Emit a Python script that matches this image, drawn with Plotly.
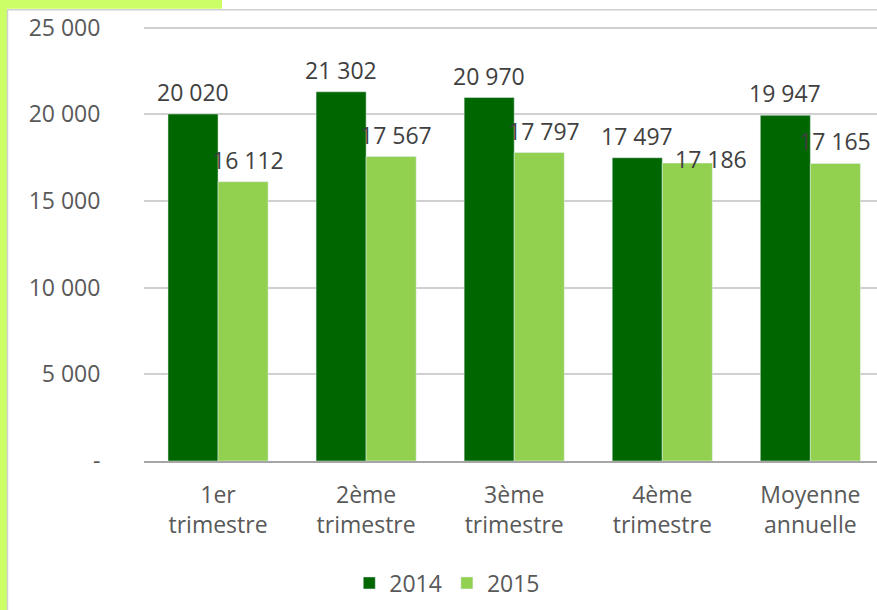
import plotly.graph_objects as go

categories = ["1er<br>trimestre", "2ème<br>trimestre", "3ème<br>trimestre", "4ème<br>trimestre", "Moyenne<br>annuelle"]
values_2014 = [20020, 21302, 20970, 17497, 19947]
values_2015 = [16112, 17567, 17797, 17186, 17165]
y_ticks = [0, 5000, 10000, 15000, 20000, 25000]

W, H = 877, 610
Y_MAX = 25500
# axis bottom at 461 px, 25 000 at 28 px
PLOT_H = (461 - 28) * Y_MAX / 25000
L, R, B = 144, 0, 149
T = H - B - PLOT_H
FONT = "Open Sans, sans-serif"
GREY = "#595959"
GRID = "#D0D0D0"
DARK = "#006600"
LIGHT = "#92D050"
BARGAP = 0.324


def fmt(v):
    return "-" if v == 0 else f"{v:,}".replace(",", " ")


def px_x(p):
    return (p - L) / (W - L - R)


def px_y(p):
    return (H - B - p) / PLOT_H


idx = list(range(len(categories)))
fig = go.Figure()
fig.add_bar(x=idx, y=values_2014, name="2014", marker_color=DARK)
fig.add_bar(x=idx, y=values_2015, name="2015", marker_color=LIGHT)

half = (1 - BARGAP) / 4
annotations = []
# the 4th-quarter 2015 label sits lower and to the right in the original
nudge_2015 = {3: (24, -18), 4: (0, 0)}
for i, v in enumerate(values_2014):
    annotations.append(dict(x=i - half, y=v, text=fmt(v), showarrow=False, yshift=22,
                            font=dict(size=23, color="#404040", family=FONT)))
for i, v in enumerate(values_2015):
    dx, dy = nudge_2015.get(i, (5, 0))
    annotations.append(dict(x=i + half, y=v, text=fmt(v), showarrow=False, xshift=dx, yshift=22 + dy,
                            font=dict(size=23, color="#404040", family=FONT)))

shapes = [
    dict(type="rect", xref="paper", yref="paper", x0=px_x(0), x1=px_x(7), y0=px_y(H), y1=px_y(0),
         fillcolor="#CCFF66", line_width=0, layer="below"),
    dict(type="rect", xref="paper", yref="paper", x0=px_x(0), x1=px_x(222), y0=px_y(9), y1=px_y(0),
         fillcolor="#CCFF66", line_width=0, layer="below"),
    dict(type="rect", xref="paper", yref="paper", x0=px_x(7.5), x1=px_x(W + 5), y0=px_y(H + 5), y1=px_y(10),
         fillcolor="rgba(0,0,0,0)", line=dict(color=GRID, width=1.5), layer="below"),
    # top gridline (plotly drops it at the range edge)
    dict(type="line", xref="paper", yref="y", x0=0, x1=1, y0=y_ticks[-1], y1=y_ticks[-1],
         line=dict(color=GRID, width=1.5), layer="above"),
]

fig.update_layout(
    width=W,
    height=H,
    barmode="group",
    bargap=BARGAP,
    bargroupgap=0,
    paper_bgcolor="white",
    plot_bgcolor="white",
    margin=dict(l=L, r=R, t=T, b=B, pad=0),
    font=dict(family=FONT, color=GREY, size=23),
    annotations=annotations,
    shapes=shapes,
    legend=dict(orientation="h", xref="container", yref="container", x=0.51, xanchor="center",
                y=1 - 583 / H, yanchor="middle", font=dict(size=23, color=GREY), itemwidth=30),
    xaxis=dict(range=[-0.5, 4.45], tickvals=idx, ticktext=categories, showgrid=False,
               showline=True, linecolor="#A6A6A6", linewidth=2, ticks="outside", ticklen=12,
               tickcolor="rgba(0,0,0,0)", tickfont=dict(size=23, color=GREY)),
    yaxis=dict(range=[0, Y_MAX], tickvals=y_ticks, ticktext=[fmt(v) for v in y_ticks],
               showgrid=True, gridcolor=GRID, gridwidth=1.5, zeroline=False,
               ticks="outside", ticklen=38, tickcolor="rgba(0,0,0,0)", tickfont=dict(size=23, color=GREY)),
)

fig.write_html("out.html", config={"displayModeBar": False},
               post_script="document.body.style.margin='0px';")
